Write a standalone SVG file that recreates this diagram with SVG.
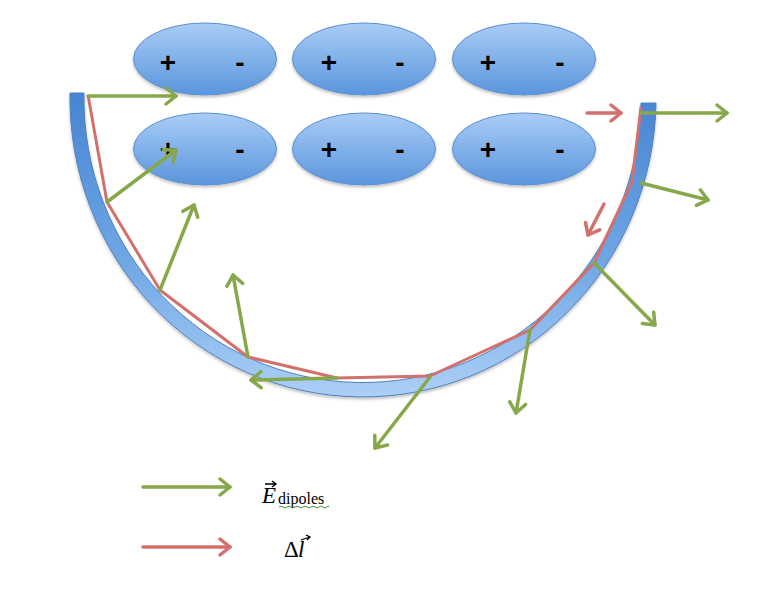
<svg xmlns="http://www.w3.org/2000/svg" width="772" height="599" viewBox="0 0 772 599">
<defs>
<linearGradient id="eg" x1="0" y1="0" x2="0" y2="1">
<stop offset="0" stop-color="#a9cdf6"/>
<stop offset="1" stop-color="#5a95dc"/>
</linearGradient>
<linearGradient id="bg" x1="0" y1="0" x2="0" y2="1">
<stop offset="0" stop-color="#4785d3"/>
<stop offset="0.55" stop-color="#6fa6e4"/>
<stop offset="1" stop-color="#acd0f7"/>
</linearGradient>
<filter id="sh" x="-10%" y="-10%" width="120%" height="130%">
<feDropShadow dx="0" dy="2" stdDeviation="1.5" flood-color="#000" flood-opacity="0.25"/>
</filter>
<marker id="ag" viewBox="0 0 16 20" refX="13" refY="10" markerWidth="16" markerHeight="20" markerUnits="userSpaceOnUse" orient="auto">
<path d="M3,2 L13,10 L3,18" fill="none" stroke="#87a84a" stroke-width="3.5" stroke-linecap="round" stroke-linejoin="round"/>
</marker>
<marker id="ar" viewBox="0 0 16 20" refX="13" refY="10" markerWidth="16" markerHeight="20" markerUnits="userSpaceOnUse" orient="auto">
<path d="M3,2 L13,10 L3,18" fill="none" stroke="#d2706b" stroke-width="3.5" stroke-linecap="round" stroke-linejoin="round"/>
</marker>
</defs>
<style>
.el{fill:url(#eg);stroke:#5b8fd0;stroke-width:1;filter:url(#sh)}
.sg{font-family:"Liberation Sans",Arial,sans-serif;font-weight:bold;font-size:28px;fill:#000;text-anchor:middle}
.g{stroke:#87a84a;stroke-width:3.5;fill:none;marker-end:url(#ag);stroke-linecap:round}
.r{stroke:#d2706b;stroke-width:3.5;fill:none;marker-end:url(#ar);stroke-linecap:round}
.ser{font-family:"Liberation Serif","Times New Roman",serif;fill:#000}
</style>

<g id="dipole-1-1"><ellipse class="el" cx="205" cy="59" rx="71.5" ry="36"/><text class="sg" x="168" y="72">+</text><text class="sg" x="240" y="72">-</text></g>
<g id="dipole-1-2"><ellipse class="el" cx="364" cy="59" rx="71.5" ry="36"/><text class="sg" x="329" y="72">+</text><text class="sg" x="400" y="72">-</text></g>
<g id="dipole-1-3"><ellipse class="el" cx="524" cy="59" rx="71.5" ry="36"/><text class="sg" x="488" y="72">+</text><text class="sg" x="560" y="72">-</text></g>
<g id="dipole-2-1"><ellipse class="el" cx="205" cy="149" rx="71.5" ry="36"/><text class="sg" x="168" y="159">+</text><text class="sg" x="240" y="159">-</text></g>
<g id="dipole-2-2"><ellipse class="el" cx="364" cy="149" rx="71.5" ry="36"/><text class="sg" x="329" y="159">+</text><text class="sg" x="400" y="159">-</text></g>
<g id="dipole-2-3"><ellipse class="el" cx="524" cy="149" rx="71.5" ry="36"/><text class="sg" x="488" y="159">+</text><text class="sg" x="560" y="159">-</text></g>

<g id="conductor">
<path d="M70,93 A293,299 0 0 0 656,103 L641,103 A278,284 0 0 1 84,93 Z" fill="url(#bg)" stroke="#4f81bd" stroke-width="1" filter="url(#sh)"/>
</g>

<g id="connectors">
<polyline points="88,95 107,202 160,290 248,357 337,378 430,376 530,330 594,263 632,182 641,107" fill="none" stroke="#d2706b" stroke-width="3" stroke-linejoin="round"/>
<line class="g" x1="88" y1="96" x2="176" y2="96"/>
<line class="g" x1="107" y1="202" x2="176" y2="150"/>
<line class="g" x1="160" y1="290" x2="194" y2="205"/>
<line class="g" x1="248" y1="357" x2="233" y2="275"/>
<line class="g" x1="337" y1="378" x2="251" y2="380"/>
<line class="g" x1="430" y1="377" x2="375" y2="448"/>
<line class="g" x1="530" y1="330" x2="516" y2="413"/>
<line class="g" x1="594" y1="263" x2="655" y2="325"/>
<line class="g" x1="641" y1="183" x2="708" y2="200"/>
<line class="g" x1="641" y1="113" x2="727" y2="113"/>
<line class="r" x1="587" y1="113" x2="621" y2="113"/>
<line class="r" x1="604" y1="204" x2="588" y2="235"/>
</g>

<g id="legend">
<line class="g" x1="143" y1="487" x2="230" y2="487"/>
<line class="r" x1="143" y1="547" x2="230" y2="547"/>
<text class="ser" x="262" y="503" font-size="23" font-style="italic">E</text>
<path d="M265,484 L276,484 M272,481 L276,484 L272,487" fill="none" stroke="#000" stroke-width="1.3"/>
<text class="ser" x="278" y="504" font-size="16">dipoles</text>
<path d="M279,507 q2,-2 4,0 t4,0 t4,0 t4,0 t4,0 t4,0 t4,0 t4,0 t4,0 t4,0 t4,0 t4,0 t2,0" fill="none" stroke="#3a9a3a" stroke-width="1"/>
<text class="ser" x="284" y="557" font-size="23">Δ</text>
<text class="ser" x="298" y="557" font-size="23" font-style="italic">l</text>
<path d="M301,540 L310,537 M306,535 L310,537 L307,540" fill="none" stroke="#000" stroke-width="1.3"/>
</g>
</svg>
